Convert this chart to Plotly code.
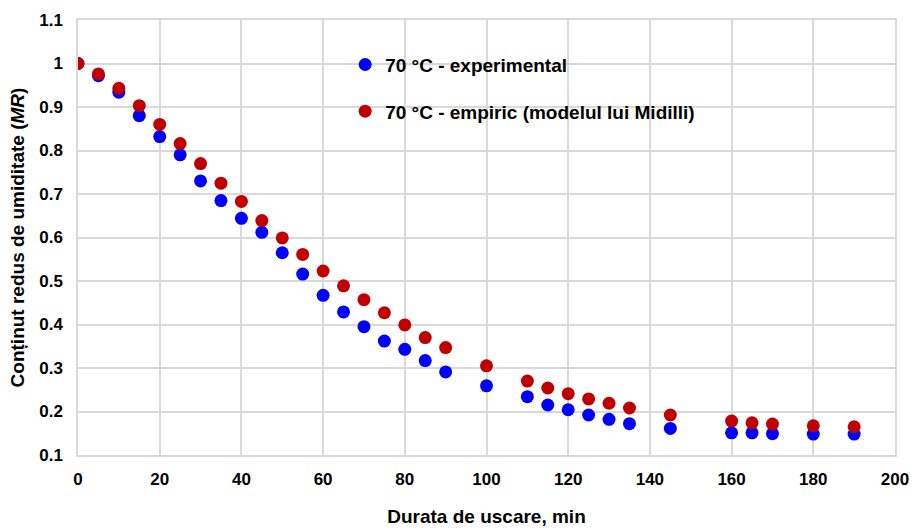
import plotly.graph_objects as go

time_min = [0, 5, 10, 15, 20, 25, 30, 35, 40, 45, 50, 55, 60, 65, 70, 75, 80, 85, 90,
            100, 110, 115, 120, 125, 130, 135, 145, 160, 165, 170, 180, 190]
mr_experimental = [1.0, 0.972, 0.934, 0.880, 0.832, 0.790, 0.730, 0.685, 0.644, 0.612,
                   0.565, 0.516, 0.467, 0.429, 0.395, 0.362, 0.343, 0.317, 0.291,
                   0.259, 0.234, 0.215, 0.204, 0.192, 0.182, 0.172, 0.161,
                   0.151, 0.151, 0.149, 0.148, 0.148]
mr_midilli = [1.0, 0.976, 0.943, 0.903, 0.860, 0.816, 0.770, 0.725, 0.683, 0.639,
              0.599, 0.561, 0.523, 0.489, 0.457, 0.427, 0.399, 0.370, 0.347,
              0.305, 0.270, 0.254, 0.241, 0.229, 0.219, 0.208, 0.192,
              0.178, 0.174, 0.171, 0.167, 0.165]

y_ticks = [0.1, 0.2, 0.3, 0.4, 0.5, 0.6, 0.7, 0.8, 0.9, 1.0, 1.1]
y_tick_labels = ["0.1", "0.2", "0.3", "0.4", "0.5", "0.6", "0.7", "0.8", "0.9", "1", "1.1"]
x_ticks = [0, 20, 40, 60, 80, 100, 120, 140, 160, 180, 200]

font_family = "Liberation Sans, Arial, sans-serif"

fig = go.Figure()
fig.add_trace(go.Scatter(
    x=time_min, y=mr_experimental, mode="markers",
    name="<b>70 °C - experimental</b>", legendgroup="a",
    marker=dict(color="#0000FF", size=13, line=dict(width=0)),
))
fig.add_trace(go.Scatter(
    x=time_min, y=mr_midilli, mode="markers",
    name="<b>70 °C - empiric (modelul lui Midilli)</b>", legendgroup="b",
    marker=dict(color="#C00000", size=13, line=dict(width=0)),
))

axis_common = dict(
    showgrid=True, gridcolor="#D9D9D9", gridwidth=1.5,
    showline=True, linecolor="#D9D9D9", linewidth=1.5, mirror=True,
    zeroline=False, ticks="", automargin=False,
    tickfont=dict(family=font_family, size=17, color="#000000", weight="bold"),
)

fig.update_xaxes(
    range=[0, 200], tickvals=x_ticks, ticklabelstandoff=8,
    title=dict(text="<b>Durata de uscare, min</b>",
               font=dict(family=font_family, size=19, color="#000000"), standoff=22),
    **axis_common,
)
fig.update_yaxes(
    range=[0.1, 1.1], tickvals=y_ticks, ticktext=y_tick_labels, ticklabelstandoff=10,
    title=dict(text="<b>Conținut redus de umiditate (<i>MR</i>)</b>",
               font=dict(family=font_family, size=19, color="#000000"), standoff=10),
    **axis_common,
)

fig.update_layout(
    width=917, height=531,
    margin=dict(l=78, r=22, t=20, b=76),
    paper_bgcolor="white", plot_bgcolor="white",
    showlegend=True,
    legend=dict(
        x=0.327, y=0.941, xanchor="left", yanchor="top",
        bgcolor="rgba(255,255,255,0)",
        font=dict(family=font_family, size=19, color="#000000"),
        tracegroupgap=19, itemwidth=30,
    ),
)

fig.write_html("out.html")
